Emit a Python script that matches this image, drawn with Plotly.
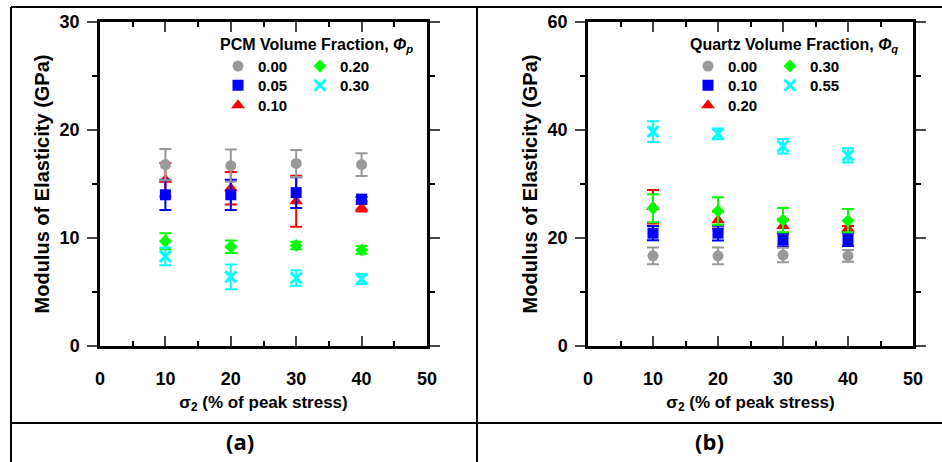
import plotly.graph_objects as go

W, H = 942, 462

# ---------------- data ----------------
stress = [10, 20, 30, 40]

pcm_labels = ["0.00", "0.05", "0.10", "0.20", "0.30"]
pcm_mean = {
    "0.00": [16.8, 16.7, 16.9, 16.8],
    "0.05": [14.0, 14.0, 14.2, 13.6],
    "0.10": [15.4, 14.6, 13.4, 12.8],
    "0.20": [9.7, 9.2, 9.3, 8.9],
    "0.30": [8.3, 6.4, 6.3, 6.2],
}
pcm_err = {
    "0.00": [1.45, 1.5, 1.25, 1.05],
    "0.05": [1.4, 1.4, 1.43, 0.2],
    "0.10": [1.55, 1.5, 2.36, 0.35],
    "0.20": [0.75, 0.58, 0.35, 0.35],
    "0.30": [0.83, 1.14, 0.72, 0.47],
}

qtz_labels = ["0.00", "0.10", "0.20", "0.30", "0.55"]
qtz_mean = {
    "0.00": [16.7, 16.7, 16.85, 16.7],
    "0.10": [20.9, 20.9, 19.6, 19.7],
    "0.20": [25.8, 23.3, 22.2, 21.7],
    "0.30": [25.5, 25.0, 23.3, 23.2],
    "0.55": [39.7, 39.3, 37.0, 35.3],
}
qtz_err = {
    "0.00": [1.55, 1.55, 1.35, 1.1],
    "0.10": [1.3, 1.35, 1.2, 1.2],
    "0.20": [3.1, 1.6, 1.25, 0.5],
    "0.30": [2.6, 2.55, 2.25, 2.15],
    "0.55": [1.9, 1.0, 1.35, 1.3],
}

colors = ["#999999", "#0000FF", "#FF0000", "#00FF00", "#00FFFF"]
symbols = ["circle", "square", "triangle-up", "diamond", "x-thin-open"]
sizes = [11, 11, 12, 10, 11]
draw_order = [2, 1, 3, 4, 0]  # red, blue, green, cyan, gray on top
legend_row = [0, 1, 2, 0, 1]   # row of each entry in the two-column key

FONT = "Liberation Sans"

fig = go.Figure()

def add_panel(labels, means, errs, xa, ya, legs):
    for i in draw_order:
        lab = labels[i]
        marker = dict(color=colors[i], symbol=symbols[i], size=sizes[i],
                      line=dict(width=0))
        if symbols[i].startswith("x-thin"):
            marker["line"] = dict(width=3, color=colors[i])
        fig.add_trace(go.Scatter(
            x=stress, y=means[lab], mode="markers", name="<b>" + lab + "</b>",
            marker=marker,
            error_y=dict(type="data", array=errs[lab], visible=True,
                         color=colors[i], thickness=2, width=6),
            xaxis=xa, yaxis=ya, legend=legs[legend_row[i]], legendrank=i + 1,
        ))

add_panel(pcm_labels, pcm_mean, pcm_err, "x", "y", ["legend", "legend2", "legend3"])
add_panel(qtz_labels, qtz_mean, qtz_err, "x2", "y2", ["legend4", "legend5", "legend6"])

def px(x):
    return x / W

def py(y):
    return 1 - y / H

tickfont = dict(family=FONT, size=18, color="black")
xcommon = dict(range=[0, 50], dtick=10, tick0=0, ticks="inside", ticklen=10,
               tickwidth=2, showline=True, linewidth=2.5, linecolor="black",
               mirror="ticks", showgrid=False, zeroline=False, automargin=False,
               tickfont=tickfont, ticklabelstandoff=15,
               tickprefix="<b>", ticksuffix="</b>",
               minor=dict(dtick=5, ticks="inside", ticklen=5, tickwidth=2,
                          tickcolor="black", showgrid=False),
               title=dict(text="<b>σ<sub>2</sub> (% of peak stress)</b>",
                          font=dict(family=FONT, size=17, color="black"),
                          standoff=8))
ycommon = dict(ticks="outside", ticklen=10, tickwidth=2, showline=True,
               linewidth=2.5, linecolor="black", mirror="ticks", automargin=False,
               showgrid=False, zeroline=False, tickfont=tickfont,
               ticklabelstandoff=4, tickprefix="<b>", ticksuffix="</b>",
               title=dict(text="<b>Modulus of Elasticity (GPa)</b>",
                          font=dict(family=FONT, size=20, color="black"),
                          standoff=5))

fig.update_layout(
    width=W, height=H, autosize=False,
    margin=dict(l=0, r=0, t=0, b=0, pad=0, autoexpand=False),
    paper_bgcolor="white", plot_bgcolor="white",
    font=dict(family=FONT, color="black"),
    xaxis=dict(domain=[px(100), px(427)], anchor="y", **xcommon),
    yaxis=dict(domain=[py(346), py(22)], anchor="x", range=[0, 30], dtick=10,
               minor=dict(dtick=5, ticks="outside", ticklen=5, tickwidth=2,
                          tickcolor="black", showgrid=False),
               **ycommon),
    xaxis2=dict(domain=[px(588), px(913)], anchor="y2", **xcommon),
    yaxis2=dict(domain=[py(346), py(22)], anchor="x2", range=[0, 60], dtick=20,
                minor=dict(dtick=10, ticks="outside", ticklen=5, tickwidth=2,
                           tickcolor="black", showgrid=False),
                **ycommon),
)

legfont = dict(family=FONT, size=15, color="black")
legtitlefont = dict(family=FONT, size=16, color="black")
common_leg = dict(bgcolor="rgba(0,0,0,0)", borderwidth=0, font=legfont,
                  xanchor="left", yanchor="top", tracegroupgap=0,
                  orientation="h", itemsizing="trace",
                  entrywidth=37, entrywidthmode="pixels")

def add_key(names, title, x0, legs):
    fig.update_layout({
        legs[0]: dict(x=px(x0), y=py(29),
                      title=dict(text=title, font=legtitlefont, side="top"),
                      **common_leg),
        legs[1]: dict(x=px(x0), y=py(69), **common_leg),
        legs[2]: dict(x=px(x0), y=py(89), **common_leg),
    })

add_key(pcm_labels, "<b>PCM Volume Fraction, <i>Φ</i><sub><i>p</i></sub></b>",
        218, ["legend", "legend2", "legend3"])
add_key(qtz_labels, "<b>Quartz Volume Fraction, <i>Φ</i><sub><i>q</i></sub></b>",
        688, ["legend4", "legend5", "legend6"])

# table frame lines
frame = dict(color="black", width=2)
for (x0, y0, x1, y1) in [(11, 7, 942, 7), (11, 7, 11, 462), (477, 7, 477, 462),
                         (11, 423, 942, 423)]:
    fig.add_shape(type="line", xref="paper", yref="paper",
                  x0=px(x0), y0=py(y0), x1=px(x1), y1=py(y1), line=frame)

for txt, xc in [("(a)", 240), ("(b)", 709)]:
    fig.add_annotation(text="<b>" + txt + "</b>", xref="paper", yref="paper",
                       x=px(xc), y=py(441), showarrow=False,
                       xanchor="center", yanchor="middle",
                       font=dict(family="Open Sans", size=22, color="black"))

fig.write_html("out.html",
               post_script="document.body.style.margin='0';"
                           "document.body.style.overflow='hidden';")
